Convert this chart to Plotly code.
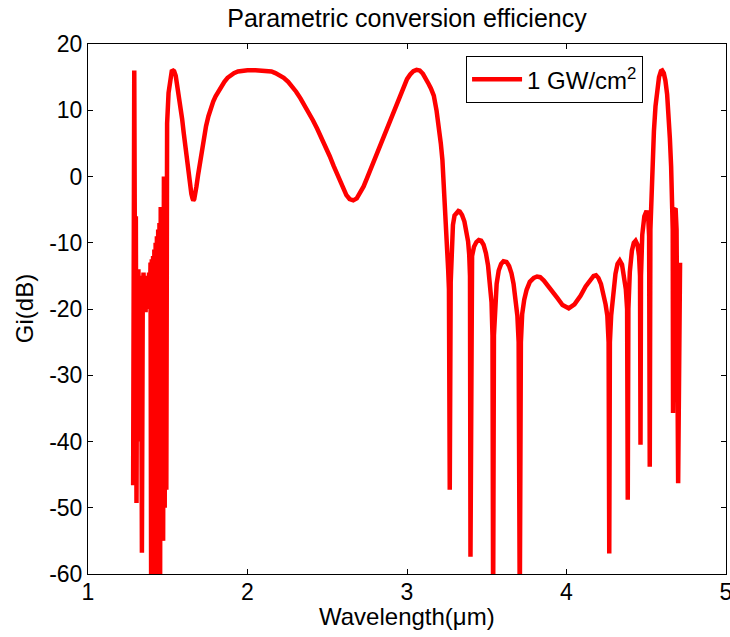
import plotly.graph_objects as go

# Idler gain spectrum, Gi (dB) versus wavelength (um), pump intensity 1 GW/cm^2
wavelength_um = [
    # fast oscillations at the short-wavelength edge
    1.283, 1.286, 1.290, 1.294, 1.297, 1.300, 1.304, 1.308, 1.312, 1.316,
    1.320, 1.324, 1.328, 1.333, 1.338, 1.343, 1.348, 1.353, 1.357, 1.361,
    1.365, 1.369, 1.374, 1.378, 1.383, 1.388, 1.392, 1.396, 1.400, 1.404,
    1.408, 1.412, 1.416, 1.420, 1.424, 1.428, 1.432, 1.436, 1.440, 1.444,
    1.448, 1.452, 1.456, 1.461, 1.466, 1.471, 1.476, 1.481, 1.486, 1.491,
    1.496, 1.505, 1.515, 1.525,
    # first gain peak and the broad plateau
    1.534, 1.540, 1.550, 1.560, 1.570, 1.580, 1.590, 1.600, 1.610, 1.620,
    1.630, 1.640, 1.648, 1.655, 1.660, 1.666, 1.673, 1.680, 1.690, 1.700,
    1.712, 1.726, 1.740, 1.755, 1.770, 1.785, 1.800, 1.818, 1.836, 1.855,
    1.875, 1.895, 1.915, 1.940, 1.965, 2.000, 2.050, 2.100, 2.130, 2.150,
    2.175, 2.200, 2.227, 2.255, 2.280, 2.305, 2.332, 2.358, 2.385, 2.410,
    2.437, 2.463, 2.490, 2.515, 2.540, 2.560, 2.580, 2.600, 2.620, 2.640,
    2.663, 2.685, 2.705, 2.728, 2.750, 2.770, 2.792, 2.813, 2.835, 2.855,
    2.876, 2.897, 2.918, 2.940, 2.960, 2.979, 3.000, 3.020, 3.040, 3.060,
    3.080, 3.100, 3.120, 3.135, 3.150, 3.168, 3.185, 3.200, 3.212, 3.222,
    3.235, 3.248, 3.258, 3.263, 3.268,
    # side lobes on the long-wavelength side
    3.274, 3.280, 3.288, 3.298, 3.310, 3.322, 3.331, 3.345, 3.360, 3.372,
    3.383, 3.390, 3.395, 3.398, 3.401, 3.408, 3.420, 3.435, 3.450, 3.465,
    3.480, 3.495, 3.508, 3.520, 3.530, 3.536, 3.540, 3.545, 3.552, 3.562,
    3.575, 3.590, 3.605, 3.624, 3.640, 3.655, 3.668, 3.680, 3.692, 3.700,
    3.707, 3.714, 3.722, 3.735, 3.750, 3.770, 3.795, 3.815, 3.835, 3.858,
    3.879, 3.910, 3.941, 3.975, 4.014, 4.050, 4.088, 4.120, 4.150, 4.170,
    4.185, 4.200, 4.216, 4.232, 4.245, 4.256, 4.264, 4.268, 4.272, 4.280,
    4.293, 4.307, 4.320, 4.334, 4.348, 4.360, 4.372, 4.380, 4.384, 4.388,
    4.397, 4.410, 4.422, 4.433, 4.445, 4.455, 4.461, 4.464, 4.467, 4.475,
    4.488, 4.502, 4.512, 4.518, 4.522, 4.526, 4.533, 4.540, 4.548, 4.558,
    4.569, 4.580, 4.592, 4.600, 4.610, 4.620, 4.631, 4.640, 4.648, 4.656,
    4.662, 4.666, 4.668, 4.671, 4.676, 4.684, 4.690, 4.700, 4.712,
]
gain_db = [
    -46.6, 9.0, 16.0, -12.0, -46.0, -6.0, -49.3, -15.0, -30.0, -14.0,
    -25.0, -15.0, -40.0, -16.0, -56.8, -20.0, -14.5, -19.5, -15.0, -20.5,
    -16.0, -20.0, -15.5, -19.0, -14.5, -20.0, -13.0, -64.0, -12.5, -63.0,
    -12.0, -65.0, -11.0, -62.0, -10.0, -64.0, -9.0, -63.0, -8.0, -62.0,
    -7.0, -63.0, -4.6, -55.0, -4.6, -55.0, 0.0, -50.0, 0.0, -47.3,
    8.0, 12.6, 15.0, 15.9,
    16.0, 15.9, 15.2, 13.8, 12.3, 10.6, 8.7, 6.6, 4.5, 2.4,
    0.4, -1.4, -2.6, -3.3, -3.6, -3.4, -2.6, -1.5, 0.2, 1.9,
    3.8, 5.9, 7.6, 9.1, 10.3, 11.3, 12.1, 12.9, 13.6, 14.3,
    14.9, 15.3, 15.6, 15.85, 16.0, 16.05, 16.05, 16.0, 16.0, 15.85,
    15.6, 15.3, 14.9, 14.3, 13.6, 12.8, 11.8, 10.8, 9.7, 8.5,
    7.2, 5.9, 4.5, 3.1, 1.6, 0.4, -0.8, -1.9, -2.8, -3.4,
    -3.6, -3.3, -2.6, -1.5, -0.2, 1.0, 2.3, 3.5, 4.8, 6.0,
    7.2, 8.5, 9.9, 11.3, 12.6, 13.7, 14.7, 15.4, 15.9, 16.1,
    16.0, 15.5, 14.8, 14.0, 13.3, 12.2, 10.0, 7.5, 5.0, 2.5,
    -2.5, -8.5, -14.0, -17.0, -47.3,
    -16.0, -10.0, -7.3, -5.9, -5.4, -5.2, -5.3, -5.8, -6.8, -8.0,
    -9.8, -11.8, -15.0, -57.4, -15.0, -12.0, -10.6, -9.9, -9.6, -9.7,
    -10.3, -11.6, -13.4, -15.8, -19.0, -24.0, -66.0, -24.0, -19.0, -16.2,
    -14.2, -13.2, -12.8, -12.9, -13.5, -14.6, -16.2, -18.2, -21.0, -25.0,
    -66.0, -25.0, -20.8, -18.6, -17.1, -15.9, -15.3, -15.1, -15.2, -15.7,
    -16.3, -17.3, -18.3, -19.4, -19.9, -19.3, -18.0, -16.6, -15.5, -15.0,
    -14.9, -15.3, -16.2, -17.8, -19.3, -21.0, -25.0, -56.9, -25.0, -21.0,
    -17.2, -14.7, -13.2, -12.7, -13.3, -14.8, -17.0, -20.0, -48.8, -20.0,
    -14.4, -11.2, -10.0, -9.7, -10.3, -12.0, -15.0, -40.5, -15.0, -8.8,
    -6.0, -5.2, -6.0, -9.0, -43.8, -8.0, -1.5, 3.0, 6.8, 10.6,
    13.3, 15.0, 15.9, 16.0, 15.6, 14.5, 12.4, 9.5, 5.8, 1.5,
    -3.0, -8.0, -35.7, -8.0, -5.0, -4.8, -8.0, -46.3, -13.0,
]

x_ticks = [1, 2, 3, 4, 5]
x_tick_labels = ["1", "2", "3", "4", "5"]
y_ticks = [20, 10, 0, -10, -20, -30, -40, -50, -60]
y_tick_labels = ["20", "10", "0", "-10", "-20", "-30", "-40", "-50", "-60"]

FONT = "Liberation Sans, Arial, Helvetica, sans-serif"

fig = go.Figure()
fig.add_trace(go.Scatter(
    x=wavelength_um,
    y=gain_db,
    mode="lines",
    name="1 GW/cm<sup>2</sup>",
    line=dict(color="#ff0000", width=4.5),
))

axis_common = dict(
    showline=True,
    linecolor="black",
    linewidth=1,
    mirror="ticks",
    ticks="inside",
    ticklen=5,
    tickcolor="black",
    tickwidth=1,
    showgrid=False,
    zeroline=False,
    automargin=False,
    ticklabeloverflow="allow",
    tickfont=dict(family=FONT, size=23, color="black"),
)

fig.update_xaxes(range=[1, 5], tickvals=x_ticks, ticktext=x_tick_labels,
                 ticklabelstandoff=-3, **axis_common)
fig.update_yaxes(range=[-60, 20], tickvals=y_ticks, ticktext=y_tick_labels, **axis_common)

fig.update_layout(
    width=730,
    height=637,
    margin=dict(l=88, r=4, t=44, b=63),
    paper_bgcolor="white",
    plot_bgcolor="white",
    font=dict(family=FONT, size=23, color="black"),
    title=dict(
        text="Parametric conversion efficiency",
        x=0.5, xref="paper", xanchor="center",
        y=1 - 18 / 637, yref="container", yanchor="middle",
        font=dict(family=FONT, size=25, color="black"),
    ),
    showlegend=True,
    legend=dict(
        x=0.87, xanchor="right", y=0.977, yanchor="top",
        bordercolor="black", borderwidth=1, bgcolor="white",
        font=dict(family=FONT, size=24, color="black"),
        itemwidth=50,
    ),
    annotations=[
        dict(text="Wavelength(\u03bcm)", xref="paper", yref="paper",
             x=0.5, y=-0.08, xanchor="center", yanchor="middle",
             showarrow=False, font=dict(family=FONT, size=24, color="black")),
        dict(text="Gi(dB)", xref="paper", yref="paper",
             x=-0.1, y=0.5, xanchor="center", yanchor="middle",
             textangle=-90, showarrow=False,
             font=dict(family=FONT, size=24, color="black")),
    ],
)

fig.write_html("out.html")
